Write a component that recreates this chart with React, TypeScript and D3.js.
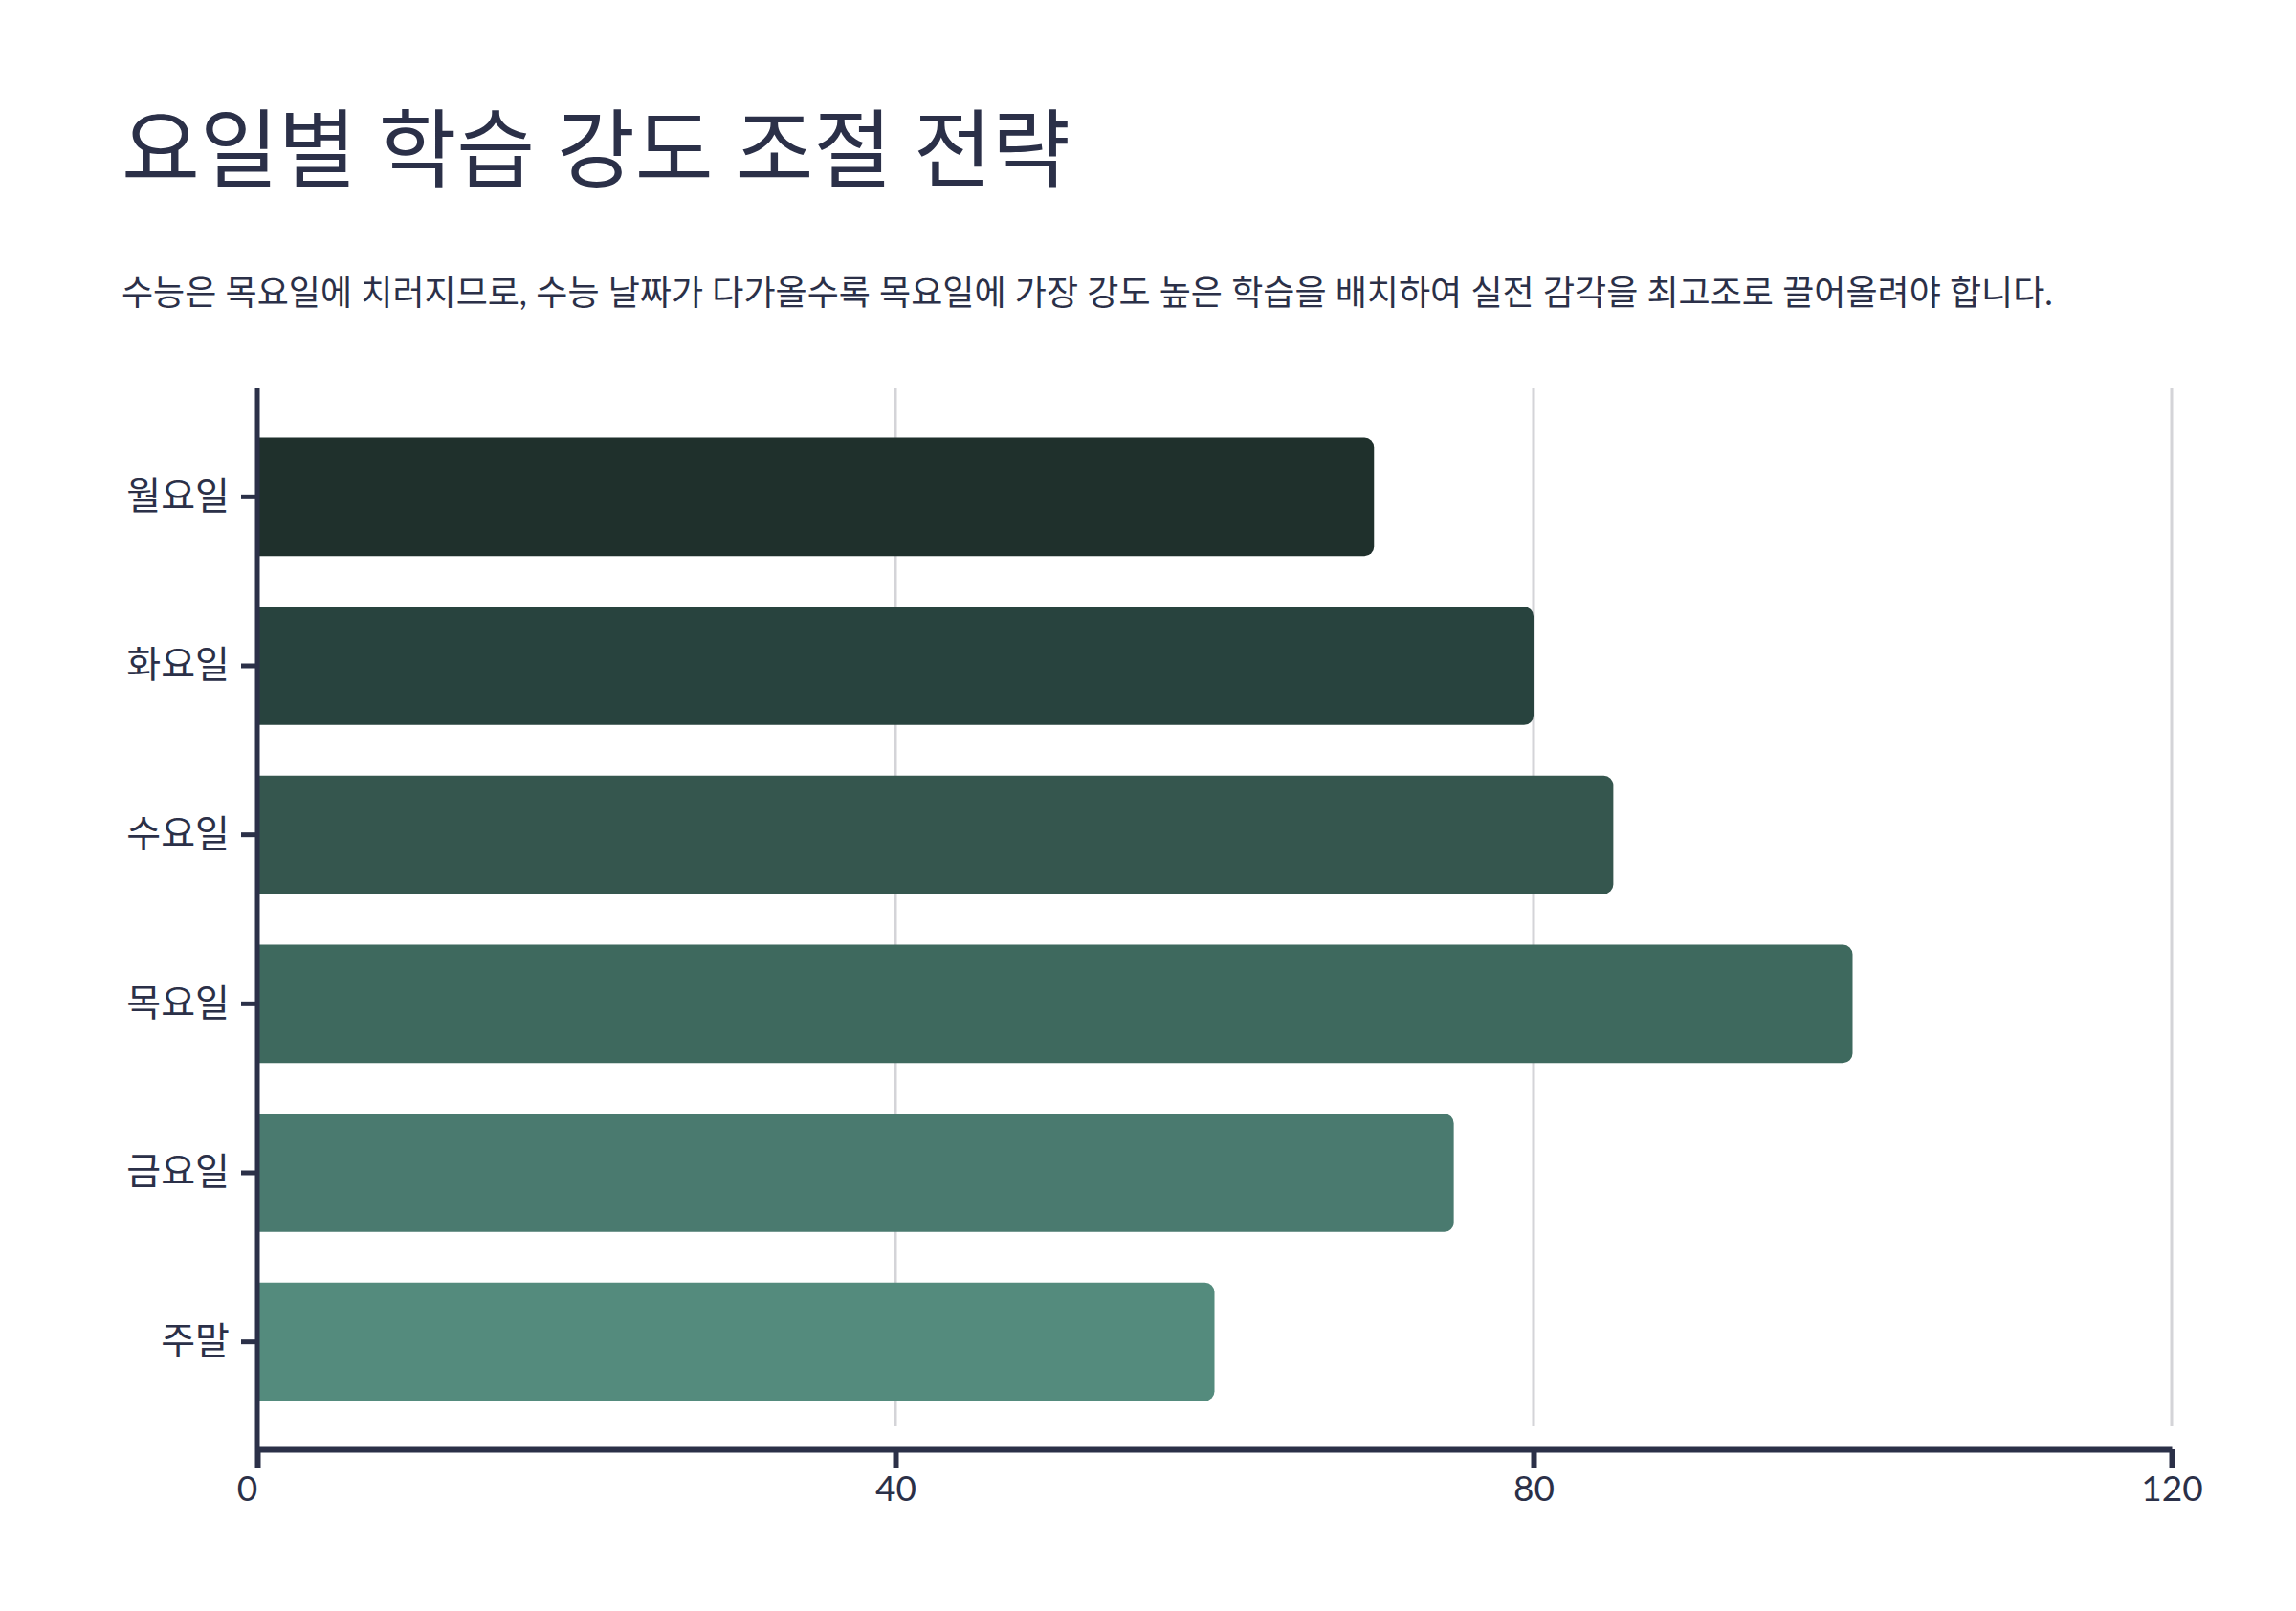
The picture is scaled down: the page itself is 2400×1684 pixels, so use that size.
import React, { useRef, useEffect } from 'react';
import * as d3 from 'd3';

const days = ['월요일', '화요일', '수요일', '목요일', '금요일', '주말'];
const intensity = [70, 80, 85, 100, 75, 60];
const barColors = ['#1f302c', '#28433e', '#35564e', '#3e695e', '#4a7a6f', '#548b7d'];
const xTicks = [0, 40, 80, 120];

const title = '요일별 학습 강도 조절 전략';
const subtitle =
  '수능은 목요일에 치러지므로, 수능 날짜가 다가올수록 목요일에 가장 강도 높은 학습을 배치하여 실전 감각을 최고조로 끌어올려야 합니다.';

const W = 2400;
const H = 1684;
const ink = '#2b3048';
const font = 'Lato, "Noto Sans CJK KR", sans-serif';

export default function App() {
  const svgRef = useRef<SVGSVGElement>(null);

  useEffect(() => {
    const el = svgRef.current;
    if (!el) return;
    const svg = d3.select(el);
    svg.selectAll('*').remove();

    const left = 269;
    const right = 2270;
    const plotTop = 406;
    const plotBottom = 1491;
    const axisY = 1515;

    const x = d3.scaleLinear().domain([0, 120]).range([left, right]);
    const y = d3
      .scaleBand<string>()
      .domain(days)
      .range([431, plotBottom])
      .paddingInner(0.3)
      .paddingOuter(0.15);

    // title + subtitle
    svg
      .append('text')
      .attr('x', 127)
      .attr('y', 188)
      .attr('fill', ink)
      .attr('font-size', 89)
      .attr('font-family', font)
      .text(title);

    svg
      .append('text')
      .attr('x', 127)
      .attr('y', 319)
      .attr('fill', ink)
      .attr('font-size', 36)
      .attr('font-family', font)
      .text(subtitle);

    // vertical grid
    svg
      .append('g')
      .selectAll('line')
      .data(xTicks.filter((t) => t > 0))
      .enter()
      .append('line')
      .attr('x1', (d) => x(d))
      .attr('x2', (d) => x(d))
      .attr('y1', plotTop)
      .attr('y2', plotBottom)
      .attr('stroke', '#d4d4d8')
      .attr('stroke-width', 3);

    // bars, rounded on the right end only
    const r = 10;
    svg
      .append('g')
      .selectAll('path')
      .data(days)
      .enter()
      .append('path')
      .attr('fill', (_, i) => barColors[i])
      .attr('d', (d, i) => {
        const x0 = x(0);
        const x1 = x(intensity[i]);
        const y0 = y(d)!;
        const h = y.bandwidth();
        const p = d3.path();
        p.moveTo(x0, y0);
        p.lineTo(x1 - r, y0);
        p.arcTo(x1, y0, x1, y0 + r, r);
        p.lineTo(x1, y0 + h - r);
        p.arcTo(x1, y0 + h, x1 - r, y0 + h, r);
        p.lineTo(x0, y0 + h);
        p.closePath();
        return p.toString();
      });

    // y axis
    const yAxis = svg
      .append('g')
      .attr('transform', `translate(${left},0)`)
      .call(d3.axisLeft(y).tickSize(17).tickPadding(12));
    yAxis.select('.domain').remove();
    yAxis.selectAll('line').attr('stroke', ink).attr('stroke-width', 5);
    yAxis
      .selectAll('text')
      .attr('fill', ink)
      .attr('font-size', 39)
      .attr('font-family', font);
    yAxis
      .append('line')
      .attr('x1', 0)
      .attr('x2', 0)
      .attr('y1', plotTop)
      .attr('y2', axisY)
      .attr('stroke', ink)
      .attr('stroke-width', 5);

    // x axis
    const xAxis = svg
      .append('g')
      .attr('transform', `translate(0,${axisY})`)
      .call(d3.axisBottom(x).tickValues(xTicks).tickSize(20).tickSizeOuter(0).tickPadding(8));
    xAxis.select('.domain').attr('stroke', ink).attr('stroke-width', 6);
    xAxis.selectAll('line').attr('stroke', ink).attr('stroke-width', 6);
    xAxis
      .selectAll('text')
      .attr('fill', ink)
      .attr('font-size', 37)
      .attr('font-family', font)
      .attr('dx', (d) => ((d as number) === 0 ? -11 : 0));
  }, []);

  return (
    <svg
      ref={svgRef}
      width={W}
      height={H}
      style={{ position: 'absolute', left: 0, top: 0, background: '#fff' }}
    />
  );
}
